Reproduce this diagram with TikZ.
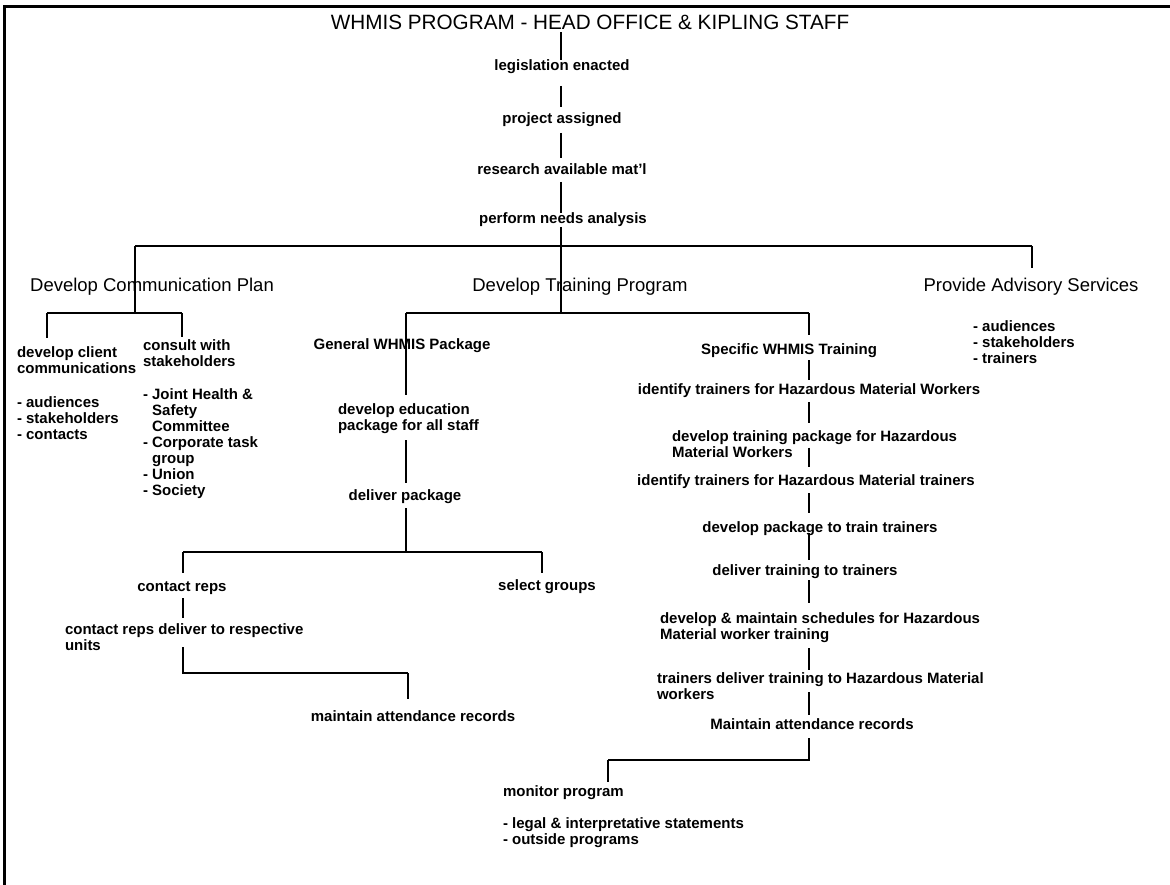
\documentclass[tikz,border=0pt]{standalone}
\usepackage{fontspec}
\setmainfont{Liberation Sans}
\begin{document}
\begin{tikzpicture}[x=1pt,y=-1pt,
  link/.style={line width=1.7pt},
  frame/.style={line width=3pt},
  ttl/.style={font=\fontsize{20.7}{24}\selectfont, inner sep=0pt, outer sep=0pt},
  hd/.style={font=\fontsize{18.5}{21}\selectfont, inner sep=0pt, outer sep=0pt, text height=13.5pt, text depth=4pt},
  lbl/.style={font=\bfseries\fontsize{15}{16}\selectfont, inner sep=0pt, outer sep=0pt, text height=11pt, text depth=3pt},
  blk/.style={font=\bfseries\fontsize{15}{16}\selectfont, inner sep=0pt, outer sep=0pt, align=left, anchor=north west},
]
\useasboundingbox (0,0) rectangle (1170,885);

% open frame: top and left edges
\draw[frame] (4,885) -- (4,7) -- (1170,7);

% junction points of the tree
\coordinate (spine) at (561,246);
\coordinate (tbl)   at (135,246);
\coordinate (tbr)   at (1032,246);
\coordinate (dcpJ)  at (135,313);
\coordinate (dcpL)  at (47,313);
\coordinate (dcpR)  at (182,313);
\coordinate (dtpJ)  at (561,313);
\coordinate (dtpL)  at (406,313);
\coordinate (dtpR)  at (809,313);
\coordinate (dlvJ)  at (406,552);
\coordinate (dlvL)  at (183,552);
\coordinate (dlvR)  at (542,552);
\coordinate (crJ)   at (183,673);
\coordinate (marJ)  at (408,673);
\coordinate (monJ)  at (809,760);
\coordinate (monL)  at (608,760);

% title and the first chain
\node[ttl] (title) at (590,22) {WHMIS PROGRAM - HEAD OFFICE \& KIPLING STAFF};
\node[lbl] (leg)  at (562,67)  {legislation enacted};
\node[lbl] (proj) at (562,120) {project assigned};
\node[lbl] (res)  at (562,171) {research available mat'l};
\node[lbl] (perf) at (563,220) {perform needs analysis};

% three main branches
\node[hd] (dcp) at (152,287)  {Develop Communication Plan};
\node[hd] (dtp) at (580,287)  {Develop Training Program};
\node[hd] (pas) at (1031,287) {Provide Advisory Services};

% communication plan
\node[blk] (dcc) at (17,346)  {\strut develop client\\communications};
\node[blk] (aud) at (17,396)  {\strut - audiences\\- stakeholders\\- contacts};
\node[blk] (cws) at (143,339) {\strut consult with\\stakeholders};
\node[blk] (grp) at (143,388) {\strut - Joint Health \&\\\phantom{- }Safety\\\phantom{- }Committee\\- Corporate task\\\phantom{- }group\\- Union\\- Society};

% advisory services
\node[blk] (adv) at (973,320) {\strut - audiences\\- stakeholders\\- trainers};

% general package
\node[lbl] (gen) at (402,345) {General WHMIS Package};
\node[blk] (edu) at (338,403) {\strut develop education\\package for all staff};
\node[lbl] (dlv) at (405,496) {deliver package};
\node[lbl] (cr)  at (182,587) {contact reps};
\node[lbl] (sg)  at (547,586) {select groups};
\node[blk] (crd) at (65,623)  {\strut contact reps deliver to respective\\units};
\node[lbl] (mar) at (413,717) {maintain attendance records};

% specific training
\node[lbl] (spec) at (789,351) {Specific WHMIS Training};
\node[lbl] (itw)  at (809,390) {identify trainers for Hazardous Material Workers};
\node[blk] (dtpk) at (672,430) {\strut develop training package for Hazardous\\Material Workers};
\node[lbl] (itt)  at (806,481) {identify trainers for Hazardous Material trainers};
\node[lbl] (dpt)  at (820,528) {develop package to train trainers};
\node[lbl] (dtt)  at (805,571) {deliver training to trainers};
\node[blk] (dms)  at (660,612) {\strut develop \& maintain schedules for Hazardous\\Material worker training};
\node[blk] (tdt)  at (657,672) {\strut trainers deliver training to Hazardous Material\\workers};
\node[lbl] (mnt)  at (812,725) {Maintain attendance records};

% monitoring
\node[lbl, anchor=west] (mon) at (503,792) {monitor program};
\node[blk] (legal) at (503,817) {\strut - legal \& interpretative statements\\- outside programs};

% connectors: top chain
\draw[link, shorten <=3pt] (title.south -| spine) -- (leg.north -| spine);
\draw[link, shorten <=12pt, shorten >=6pt] (leg.south -| spine) -- (proj.north -| spine);
\draw[link, shorten <=6pt, shorten >=6pt] (proj.south -| spine) -- (res.north -| spine);
\draw[link, shorten <=4pt] (res.south -| spine) -- (perf.north -| spine);
\draw[link] (perf.south -| spine) -- (dtpJ);
\draw[link] (tbl) -- (tbr);
\draw[link] (tbl) -- (dcpJ);
\draw[link, shorten >=10pt] (tbr) -- (tbr |- pas.north);

% communication plan
\draw[link] (dcpL) -- (dcpR);
\draw[link, shorten >=8pt] (dcpL) -- (dcpL |- dcc.north);
\draw[link, shorten >=2pt] (dcpR) -- (dcpR |- cws.north);

% training program
\draw[link] (dtpL) -- (dtpR);
\draw[link, shorten >=8pt] (dtpL) -- (dtpL |- edu.north);
\draw[link, shorten <=7pt, shorten >=6pt] (edu.south -| dtpL) -- (dlv.north -| dtpL);
\draw[link, shorten <=5pt] (dlv.south -| dlvJ) -- (dlvJ);
\draw[link] (dlvL) -- (dlvR);
\draw[link, shorten >=7pt] (dlvL) -- (dlvL |- cr.north);
\draw[link, shorten >=6pt] (dlvR) -- (dlvR |- sg.north);
\draw[link, shorten <=4pt, shorten >=5pt] (cr.south -| dlvL) -- (crd.north -| dlvL);
\draw[link] ([yshift=3pt]crd.south -| crJ) -- (crJ) -- (marJ);
\draw[link, shorten >=11pt] (marJ) -- (marJ |- mar.north);

% specific training chain
\draw[link, shorten >=9pt] (dtpR) -- (dtpR |- spec.north);
\draw[link, shorten <=2pt, shorten >=3pt] (spec.south -| dtpR) -- (itw.north -| dtpR);
\draw[link, shorten <=5pt, shorten >=7pt] (itw.south -| dtpR) -- (dtpk.north -| dtpR);
\draw[link, shorten >=7pt] ([yshift=-4pt]dtpk.center -| dtpR) -- (itt.north -| dtpR);
\draw[link, shorten <=5pt, shorten >=8pt] (itt.south -| dtpR) -- (dpt.north -| dtpR);
\draw[link, shorten >=4pt] ([yshift=-5pt]dpt.center -| dtpR) -- (dtt.north -| dtpR);
\draw[link, shorten <=2pt, shorten >=9pt] (dtt.south -| dtpR) -- (dms.north -| dtpR);
\draw[link, shorten <=6pt, shorten >=2pt] (dms.south -| dtpR) -- (tdt.north -| dtpR);
\draw[link, shorten >=3pt] ([yshift=7pt]tdt.south -| dtpR) -- (mnt.north -| dtpR);
\draw[link, shorten <=6pt] (mnt.south -| monJ) -- (monJ) -- (monL);
\draw[link, shorten >=3pt] (monL) -- (monL |- mon.north);
\end{tikzpicture}
\end{document}
